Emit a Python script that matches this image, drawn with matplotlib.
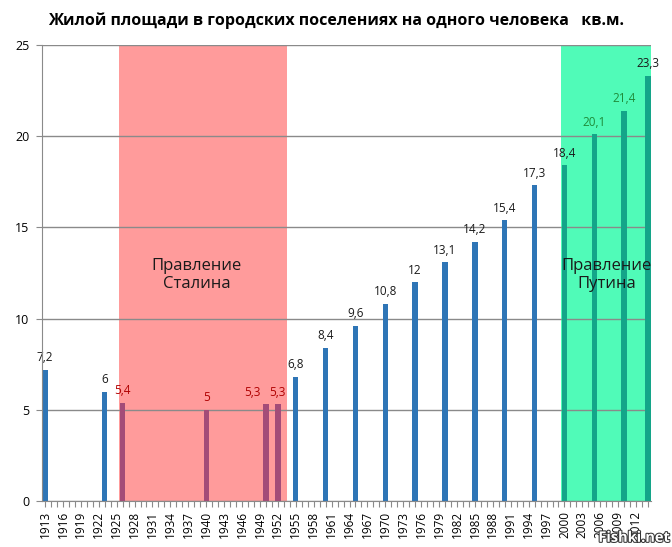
import matplotlib
matplotlib.use("Agg")
import matplotlib.pyplot as plt
import matplotlib.patheffects as pe

plt.rcParams['font.family'] = ['Open Sans', 'DejaVu Sans']

# ---- data ----
years = [1913, 1923, 1926, 1940, 1950, 1952, 1955, 1960, 1965, 1970, 1975,
         1980, 1985, 1990, 1995, 2000, 2005, 2010, 2014]
values = [7.2, 6, 5.4, 5, 5.3, 5.3, 6.8, 8.4, 9.6, 10.8, 12,
          13.1, 14.2, 15.4, 17.3, 18.4, 20.1, 21.4, 23.3]
value_labels = ["7,2", "6", "5,4", "5", "5,3", "5,3", "6,8", "8,4", "9,6", "10,8", "12",
                "13,1", "14,2", "15,4", "17,3", "18,4", "20,1", "21,4", "23,3"]
era = ["base", "base", "stalin", "stalin", "stalin", "stalin", "base", "base", "base",
       "base", "base", "base", "base", "base", "base", "putin", "putin", "putin", "putin"]
label_era = ["base"] * 2 + ["stalin"] * 4 + ["base"] * 10 + ["putin", "putin", "base"]
tick_years = list(range(1913, 2015, 3))
title = "Жилой площади в городских поселениях на одного человека   кв.м."
stalin_span = (1925.4, 1953.5)
putin_span = (1999.5, 2014.5)
stalin_text = "Правление\nСталина"
putin_text = "Правление\nПутина"

# ---- styles ----
bar_colors = {"base": "#2E75B6", "stalin": "#A34C78", "putin": "#14A589"}
label_colors = {"base": "#1a1a1a", "stalin": "#B00000", "putin": "#1F8C3A"}
# horizontal nudges (points) for crowded labels
label_dx = {1950: -10}

fig = plt.figure(figsize=(6.72, 5.47), dpi=100)
ax = fig.add_axes([0.0625, 0.0841, 0.9063, 0.8336])

ax.axvspan(*stalin_span, color="#FF9B9B", zorder=0, lw=0)
ax.axvspan(*putin_span, color="#50FBB8", zorder=0, lw=0)

ax.set_ylim(0, 25)
ax.set_xlim(1912.5, 2014.5)
ax.set_yticks([0, 5, 10, 15, 20, 25])
ax.yaxis.grid(True, color="#8a8a8a", lw=1, zorder=1)
ax.set_axisbelow(False)

cols = [bar_colors[e] for e in era]
ax.bar(years, values, width=0.9, color=cols, zorder=3)

for x, v, lab, le in zip(years, values, value_labels, label_era):
    c = label_colors[le]
    ax.annotate(lab, (x, v), xytext=(label_dx.get(x, 0), 4), textcoords="offset points",
                ha="center", va="bottom", fontsize=8.5, color=c, zorder=4)

ax.text(sum(stalin_span) / 2 - 1, 12.4, stalin_text, ha="center", va="center",
        fontsize=12, color="#1a1a1a", linespacing=1.15)
ax.text(2007, 12.4, putin_text, ha="center", va="center",
        fontsize=12, color="#1a1a1a", linespacing=1.15)

# axes styling
for s in ["top", "right"]:
    ax.spines[s].set_visible(False)
ax.spines["left"].set_color("#8a8a8a")
ax.spines["bottom"].set_color("#8a8a8a")
ax.spines["left"].set_zorder(5)
ax.spines["bottom"].set_zorder(5)

all_years = list(range(1913, 2015))
ax.set_xticks(all_years)
ax.set_xticklabels([str(y) if y in tick_years else "" for y in all_years],
                   rotation=90, fontsize=8.5)
ax.tick_params(axis="x", length=4, color="#8a8a8a", pad=3)
ax.tick_params(axis="y", length=4, color="#8a8a8a", labelsize=9, pad=5)

fig.suptitle(title, fontsize=11.5, fontweight="bold", y=0.978, x=0.5)

fig.text(0.997, 0.004, "Fishki.net", ha="right", va="bottom", fontsize=10.5,
         color="white", fontweight="bold",
         path_effects=[pe.withStroke(linewidth=1.5, foreground="#333333")])

fig.savefig("out.png", dpi=100)
